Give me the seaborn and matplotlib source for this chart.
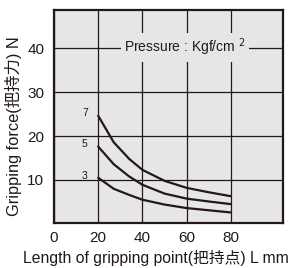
import pandas as pd
import matplotlib
matplotlib.use("Agg")
import matplotlib.pyplot as plt
import seaborn as sns

# valores
length_mm = [20, 27, 34, 40, 50, 60, 70, 80]
force_7 = [24.6, 18.6, 14.8, 12.3, 9.8, 8.2, 7.2, 6.3]
force_5 = [17.6, 13.6, 10.8, 8.9, 6.9, 5.75, 5.1, 4.5]
force_3 = [10.5, 8.0, 6.6, 5.5, 4.4, 3.6, 3.1, 2.6]
pressures = ["7", "5", "3"]
label_y = [25.3, 18.2, 10.8]
x_ticks = [0, 20, 40, 60, 80]
y_ticks = [10, 20, 30, 40]

rows = []
for p, vals in zip(pressures, [force_7, force_5, force_3]):
    for x, y in zip(length_mm, vals):
        rows.append({"L": x, "F": y, "P": p})
data = pd.DataFrame(rows)

sns.set_style("white", {"axes.facecolor": "#e6e6e6", "axes.edgecolor": "#231815"})
plt.rcParams["font.family"] = ["Liberation Sans", "Noto Sans CJK SC", "DejaVu Sans"]

fig = plt.figure(figsize=(2.94, 2.68), dpi=100)
ax = fig.add_axes([54 / 294, 1 - 223 / 268, 229 / 294, 213 / 268])

sns.lineplot(data=data, x="L", y="F", units="P", estimator=None,
             color="#231815", linewidth=1.6, ax=ax, legend=False)

ax.set_xlim(0, 103.6)
ax.set_ylim(0.2, 48.7)
ax.set_xticks(x_ticks)
ax.set_yticks(y_ticks)
ax.tick_params(length=0, labelsize=11, colors="#231815")
ax.tick_params(axis="x", pad=6)
ax.tick_params(axis="y", pad=7)
ax.grid(True, color="#231815", linewidth=0.9)
ax.set_axisbelow(True)
for s in ax.spines.values():
    s.set_linewidth(1.6)

for p, y in zip(pressures, label_y):
    ax.text(14, y, p, fontsize=7.5, ha="center", va="center", color="#231815")

ax.text(59.2, 40.2, r"Pressure : Kgf/cm $^{2}$", fontsize=10, ha="center", va="center",
        color="#231815", bbox=dict(facecolor="#e6e6e6", edgecolor="none", pad=2.5))

ax.set_xlabel("Length of gripping point(把持点) L mm", fontsize=11.3, color="#231815")
ax.set_ylabel("Gripping force(把持力) N", fontsize=11.8, color="#231815")
ax.xaxis.set_label_coords(0.445, -0.125)
ax.yaxis.set_label_coords(-0.14, 0.455)

fig.savefig("out.png", dpi=100)
